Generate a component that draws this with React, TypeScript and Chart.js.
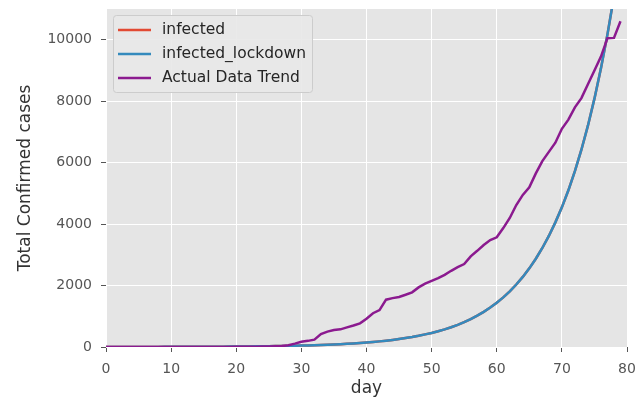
import React, { useEffect, useRef } from "react";
import { Chart, registerables } from "chart.js";

Chart.register(...registerables);

const days: number[] = Array.from({ length: 81 }, (_, i) => i);

const infected: number[] = [
  1.5, 1.7, 1.9, 2.1, 2.4, 2.7, 3.0, 3.3, 3.7, 4.2,
  4.6, 5.2, 5.8, 6.5, 7.3, 8.2, 9.2, 10.3, 11.6, 13,
  14.5, 16.3, 18.3, 20.5, 23, 25.8, 29, 32.5, 36.5, 41,
  46, 51.6, 57.9, 65, 73, 82, 92, 103, 115.5, 129.6,
  145, 163, 183, 205, 230, 258, 290, 325, 365, 410,
  455, 511, 573, 643, 721, 809, 908, 1019, 1143, 1283,
  1440, 1615, 1812, 2033, 2281, 2560, 2872, 3222, 3615, 4056,
  4545, 5100, 5722, 6420, 7203, 8082, 9068, 10174, 11415, 12808,
  14370,
];

const infectedLockdown: number[] = [...infected];

const actualDays: number[] = Array.from({ length: 80 }, (_, i) => i);
const actual: number[] = [
  1, 1, 1, 2, 3, 3, 3, 3, 3, 3,
  3, 3, 3, 3, 3, 3, 3, 3, 3, 3,
  5, 6, 8, 12, 15, 20, 25, 30, 60, 110,
  170, 200, 240, 420, 500, 550, 575, 640, 700, 770,
  920, 1100, 1200, 1540, 1590, 1630, 1700, 1780, 1940, 2060,
  2150, 2240, 2350, 2480, 2600, 2700, 2950, 3130, 3320, 3480,
  3570, 3870, 4200, 4620, 4950, 5200, 5650, 6050, 6350, 6650,
  7100, 7400, 7800, 8100, 8550, 9000, 9450, 10050, 10060, 10600,
];

const xTicks: number[] = [0, 10, 20, 30, 40, 50, 60, 70, 80];
const yTicks: number[] = [0, 2000, 4000, 6000, 8000, 10000];

const seriesLabels: string[] = ["infected", "infected_lockdown", "Actual Data Trend"];
const seriesColors: string[] = ["#E24A33", "#348ABD", "#8B1A8F"];

const bgPlugin = {
  id: "plotBg",
  beforeDraw(chart: any) {
    const { ctx, chartArea } = chart;
    ctx.save();
    ctx.fillStyle = "#E5E5E5";
    ctx.fillRect(chartArea.left, chartArea.top, chartArea.right - chartArea.left, chartArea.bottom - chartArea.top);
    ctx.restore();
  },
};

const legendPlugin = {
  id: "customLegend",
  afterDatasetsDraw(chart: any) {
    const { ctx } = chart;
    const x = 113, y = 15, w = 199, h = 77;
    ctx.save();
    ctx.fillStyle = "rgba(232,232,232,0.9)";
    ctx.strokeStyle = "#CCCCCC";
    ctx.lineWidth = 1;
    ctx.beginPath();
    (ctx as any).roundRect(x + 0.5, y + 0.5, w, h, 3);
    ctx.fill();
    ctx.stroke();
    ctx.font = '15.5px "DejaVu Sans"';
    ctx.textBaseline = "middle";
    ctx.textAlign = "left";
    const rows = [30, 54, 78];
    seriesLabels.forEach((lab, i) => {
      ctx.strokeStyle = seriesColors[i];
      ctx.lineWidth = 2.5;
      ctx.beginPath();
      ctx.moveTo(118, rows[i]);
      ctx.lineTo(151, rows[i]);
      ctx.stroke();
      ctx.fillStyle = "#262626";
      ctx.fillText(lab, 162, rows[i]);
    });
    ctx.restore();
  },
};

export default function App() {
  const ref = useRef<HTMLCanvasElement | null>(null);
  useEffect(() => {
    document.body.style.margin = "0";
    const canvas = ref.current!;
    const mk = (xs: number[], ys: number[]) => ys.map((v, i) => ({ x: xs[i], y: v }));
    const chart = new Chart(canvas, {
      type: "line",
      data: {
        datasets: [
          { label: seriesLabels[0], data: mk(days, infected), borderColor: seriesColors[0], borderWidth: 2.5, pointRadius: 0, tension: 0, order: 3 },
          { label: seriesLabels[1], data: mk(days, infectedLockdown), borderColor: seriesColors[1], borderWidth: 2.5, pointRadius: 0, tension: 0, order: 2 },
          { label: seriesLabels[2], data: mk(actualDays, actual), borderColor: seriesColors[2], borderWidth: 2.5, pointRadius: 0, tension: 0, order: 1 },
        ],
      },
      options: {
        animation: false,
        responsive: false,
        devicePixelRatio: 1,
        layout: { padding: { top: 9, right: 15, left: 0, bottom: 0 } },
        plugins: { legend: { display: false }, tooltip: { enabled: false } },
        scales: {
          x: {
            type: "linear",
            min: 0,
            max: 80,
            afterBuildTicks: (s: any) => { s.ticks = xTicks.map((v) => ({ value: v })); },
            afterFit: (s: any) => { s.height = 57; s.paddingLeft = 0; s.paddingRight = 0; },
            grid: { color: "#FFFFFF", lineWidth: 1, tickColor: "#555555", tickLength: 5, drawTicks: true },
            border: { display: false },
            ticks: { color: "#555555", font: { family: "DejaVu Sans", size: 14 }, padding: 9, maxRotation: 0, autoSkip: false },
            title: { display: true, text: "day", color: "#333333", font: { family: "DejaVu Sans", size: 17 }, padding: { top: 0, bottom: 5 } },
          },
          y: {
            type: "linear",
            min: 0,
            max: 11000,
            afterBuildTicks: (s: any) => { s.ticks = yTicks.map((v) => ({ value: v })); },
            afterFit: (s: any) => { s.width = 106; s.paddingTop = 0; s.paddingBottom = 0; },
            grid: { color: "#FFFFFF", lineWidth: 1, tickColor: "#555555", tickLength: 5, drawTicks: true },
            border: { display: false },
            ticks: { color: "#555555", font: { family: "DejaVu Sans", size: 14 }, padding: 9, callback: (v: any) => String(v) },
            title: { display: true, text: "Total Confirmed cases", color: "#333333", font: { family: "DejaVu Sans", size: 17 }, padding: { top: 15, bottom: 0 } },
          },
        },
      },
      plugins: [bgPlugin, legendPlugin],
    } as any);
    return () => chart.destroy();
  }, []);
  return (
    <div style={{ position: "absolute", left: 0, top: 0, width: 642, height: 404, background: "#fff" }}>
      <canvas ref={ref} width={642} height={404} style={{ width: 642, height: 404 }} />
    </div>
  );
}
